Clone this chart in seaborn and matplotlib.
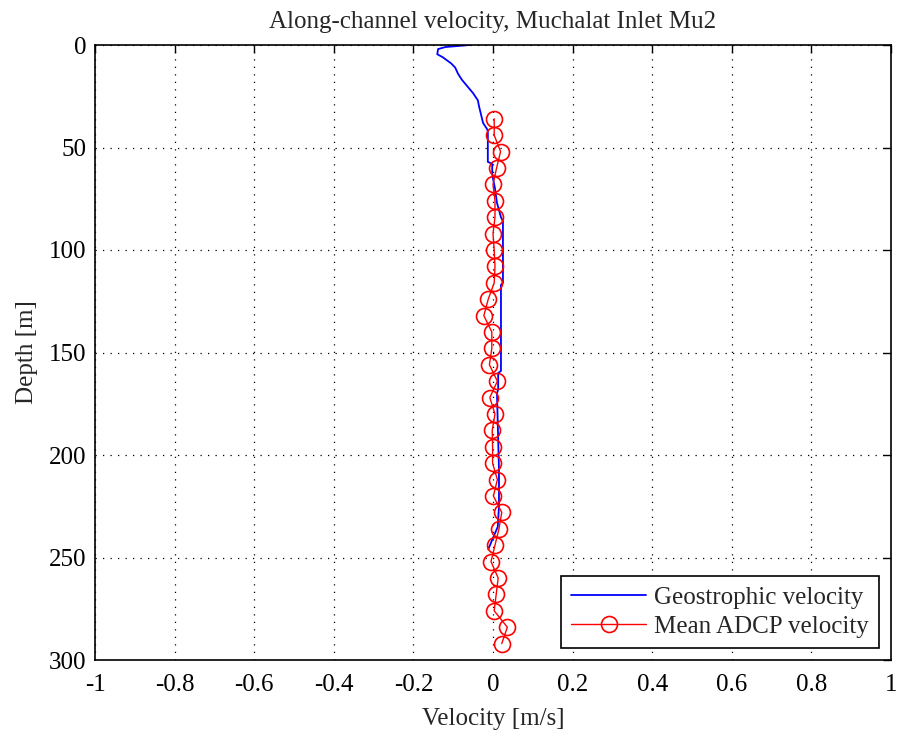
import matplotlib
matplotlib.use("Agg")
import matplotlib.pyplot as plt
import numpy as np
import pandas as pd
import seaborn as sns

# Geostrophic velocity profile (depth in m, velocity in m/s)
geo_depth = [0, 1, 2, 4.5, 6, 9, 11, 14, 17, 20.5, 23.5, 27, 30, 34, 38, 41, 42,
             57, 58, 63, 70, 77, 84, 86, 116, 117, 159, 160, 168, 170, 185, 207,
             225, 235, 246]
geo_vel = [-0.058, -0.12, -0.138, -0.14, -0.126, -0.105, -0.095, -0.088, -0.078,
           -0.063, -0.05, -0.038, -0.035, -0.03, -0.025, -0.015, -0.013,
           -0.013, -0.002, -0.002, 0.005, 0.01, 0.02, 0.025, 0.025, 0.02, 0.02,
           0.013, 0.013, 0.01, 0.012, 0.015, 0.015, 0.012, -0.012]

# Mean ADCP velocity in 8 m bins
adcp_depth = [36, 44, 52, 60, 68, 76, 84, 92, 100, 108, 116, 124, 132, 140, 148,
              156, 164, 172, 180, 188, 196, 204, 212, 220, 228, 236, 244, 252,
              260, 268, 276, 284, 292]
adcp_vel = [0.003, 0.003, 0.019, 0.009, 0.0, 0.005, 0.005, 0.0, 0.003, 0.005,
            0.003, -0.012, -0.023, -0.003, -0.003, -0.009, 0.011, -0.008, 0.005,
            -0.002, -0.001, -0.001, 0.011, 0.001, 0.022, 0.015, 0.005, -0.005,
            0.013, 0.008, 0.003, 0.036, 0.022]

title = "Along-channel velocity, Muchalat Inlet Mu2"
xlabel = "Velocity [m/s]"
ylabel = "Depth [m]"
xticks = [-1, -0.8, -0.6, -0.4, -0.2, 0, 0.2, 0.4, 0.6, 0.8, 1]
xticklabels = ["-1", "-0.8", "-0.6", "-0.4", "-0.2", "0", "0.2", "0.4", "0.6", "0.8", "1"]
yticks = [0, 50, 100, 150, 200, 250, 300]

FS = 18

sns.set_style("white")
plt.rcParams["font.family"] = ["Liberation Serif", "DejaVu Serif"]

geo = pd.DataFrame({"depth": geo_depth, "vel": geo_vel})
adcp = pd.DataFrame({"depth": adcp_depth, "vel": adcp_vel})

fig = plt.figure(figsize=(8.97, 7.30), dpi=100)
ax = fig.add_axes([95 / 897, 70 / 730, 796 / 897, 615 / 730])

sns.lineplot(data=geo, x="vel", y="depth", sort=False, estimator=None,
             color="#0000ff", lw=1.3, ax=ax, label="Geostrophic velocity")
sns.lineplot(data=adcp, x="vel", y="depth", sort=False, estimator=None,
             color="#ff0000", lw=1.0, marker="o", markersize=11.5,
             markerfacecolor="none", markeredgecolor="#ff0000",
             markeredgewidth=1.2, ax=ax, label="Mean ADCP velocity")

ax.set_xlim(-1, 1)
ax.set_ylim(300, 0)
ax.set_xticks(xticks)
ax.set_xticklabels(xticklabels)
ax.set_yticks(yticks)
ax.grid(True, color="black", linestyle=(0, (1, 5)), linewidth=0.9)
ax.tick_params(direction="in", length=6, width=1, top=True, right=True,
               labelsize=FS, pad=6, colors="black")
ax.tick_params(axis="x", pad=10)
for s in ax.spines.values():
    s.set_visible(True)
    s.set_color("black")
    s.set_linewidth(1.2)

ax.set_title(title, fontsize=FS, pad=12)
ax.set_xlabel(xlabel, fontsize=FS, labelpad=9)
ax.set_ylabel(ylabel, fontsize=FS, labelpad=8)

leg = ax.legend(loc="lower right", fontsize=FS, frameon=True, fancybox=False,
                edgecolor="black", framealpha=1, handlelength=3.0,
                handletextpad=0.3, borderaxespad=0.5, borderpad=0.4,
                labelspacing=0.25)
leg.get_frame().set_linewidth(1.2)

fig.savefig("out.png", dpi=100, facecolor="white")
